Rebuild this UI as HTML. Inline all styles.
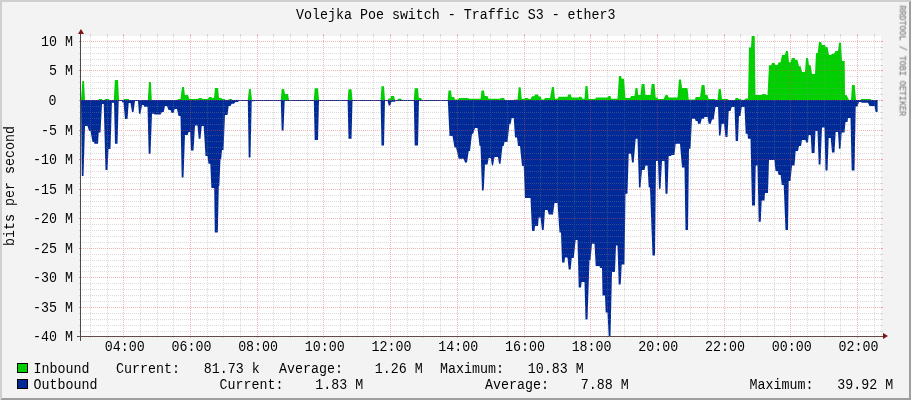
<!DOCTYPE html>
<html><head><meta charset="utf-8"><title>Volejka Poe switch - Traffic S3 - ether3</title>
<style>
html,body{margin:0;padding:0;background:#f3f3f3;}
body{width:911px;height:400px;overflow:hidden;}
svg{display:block;}
text{font-family:"Liberation Mono",monospace;font-size:13.33px;fill:#000;}
.wm{font-size:8.38px;fill:#8a8a8a;stroke:#8a8a8a;stroke-width:0.25px;}
</style></head><body>
<svg width="911" height="400" viewBox="0 0 911 400">
<rect x="0" y="0" width="911" height="400" fill="#f3f3f3"/>
<path d="M0,0H911L909,2H2V398L0,400Z" fill="#cfcfcf" shape-rendering="crispEdges"/>
<path d="M911,0V400H0L2,398H909V2Z" fill="#9e9e9e" shape-rendering="crispEdges"/>
<rect x="81" y="36" width="800" height="300" fill="#fff" shape-rendering="crispEdges"/>
<polygon fill="#00cf00" points="81.0,100.0 82.4,81.0 84.0,81.0 85.0,100.0 98.5,100.0 98.6,99.0 101.8,99.0 102.5,100.0 104.5,100.0 104.9,99.0 108.6,99.0 109.5,100.0 113.8,100.0 114.9,80.0 118.0,80.0 119.0,100.0 123.5,100.0 124.0,99.0 128.6,99.0 129.5,100.0 147.8,100.0 149.0,82.0 150.9,82.0 151.8,100.0 177.5,100.0 178.0,99.0 180.5,99.0 182.0,87.0 183.9,87.0 184.9,95.0 188.0,95.0 189.3,99.0 198.0,99.0 199.0,98.0 201.4,98.0 202.5,99.0 208.0,99.0 209.0,97.0 211.4,97.0 212.0,98.0 214.0,98.0 215.0,88.0 218.0,88.0 219.0,98.0 221.4,98.0 222.0,99.0 224.5,99.0 225.5,100.0 228.3,100.0 229.0,99.0 231.4,99.0 232.5,100.0 247.8,100.0 249.0,89.0 250.7,89.0 252.0,100.0 280.8,100.0 281.7,89.0 284.0,89.0 285.0,94.0 288.0,94.0 289.0,100.0 313.8,100.0 314.7,88.2 318.0,88.2 319.0,100.0 347.6,100.0 348.5,89.2 351.5,89.2 352.5,100.0 380.6,100.0 381.5,86.2 384.0,86.2 385.0,100.0 388.0,100.0 388.5,98.5 390.5,98.5 391.0,96.0 394.0,96.0 395.0,100.0 397.5,100.0 398.0,98.7 401.0,98.7 402.0,100.0 413.8,100.0 414.7,88.2 418.0,88.2 418.8,98.0 421.0,98.0 422.0,100.0 447.6,100.0 448.5,90.5 451.0,90.5 451.8,97.0 454.0,97.0 455.0,99.5 458.0,99.5 459.0,98.0 468.0,98.0 469.0,98.7 480.6,98.7 481.5,90.5 484.0,90.5 484.8,96.0 487.5,96.0 488.5,98.7 500.0,98.7 501.0,98.0 504.0,98.0 505.0,100.0 513.7,100.0 514.5,99.4 517.6,99.4 518.7,87.2 520.6,87.2 521.8,99.0 524.5,99.0 525.0,98.0 528.0,98.0 528.8,99.0 530.6,99.0 532.0,96.2 534.4,96.2 535.0,94.4 538.0,94.4 538.7,96.5 540.6,96.5 541.8,99.4 544.0,99.4 545.0,98.0 550.0,98.0 551.9,87.0 553.9,87.0 555.0,98.7 557.5,98.7 558.7,96.7 567.5,96.7 568.0,94.5 570.7,94.5 571.7,97.5 578.7,97.5 579.2,96.7 581.2,96.7 582.5,98.7 584.5,98.7 585.5,86.0 587.5,86.0 588.7,99.0 595.0,99.0 596.2,97.5 607.5,97.5 608.7,96.0 610.5,96.0 611.2,98.7 617.5,98.7 619.0,76.0 621.0,76.0 621.7,78.7 624.0,78.7 625.5,98.0 630.0,98.0 631.2,96.0 634.5,96.0 635.5,88.0 637.5,88.0 638.2,95.0 640.5,95.0 641.7,84.0 644.5,84.0 645.5,95.0 650.5,95.0 651.7,84.0 654.5,84.0 655.7,97.5 657.5,97.5 658.2,99.0 663.7,99.0 665.5,95.0 667.5,95.0 668.7,97.5 677.5,97.5 679.0,79.5 681.0,79.5 682.0,88.0 687.5,88.0 688.7,99.5 695.0,99.5 695.7,97.0 700.0,97.0 701.7,85.0 704.5,85.0 705.5,95.0 707.5,95.0 708.7,99.0 715.0,99.0 716.2,100.0 717.5,100.0 718.7,89.0 720.7,89.0 722.0,99.0 727.5,99.0 728.7,100.0 735.0,100.0 735.5,98.0 738.0,98.0 738.5,99.0 740.5,99.0 741.7,100.0 744.2,100.0 745.5,98.5 748.0,98.5 749.0,47.5 751.0,47.5 751.7,36.0 754.7,36.0 755.5,95.0 761.7,95.0 762.0,94.0 765.5,94.0 766.0,95.0 767.5,95.0 769.0,65.2 771.2,65.2 772.0,63.1 774.4,63.1 775.6,65.0 777.5,65.0 778.7,62.2 780.6,62.2 782.0,55.0 785.0,55.0 785.9,51.0 787.9,51.0 789.0,62.2 790.6,62.2 791.9,58.0 794.7,58.0 795.6,60.0 797.5,60.0 799.0,66.2 800.6,66.2 802.0,71.9 805.0,71.9 806.0,58.0 808.0,58.0 809.0,65.2 810.6,65.2 812.0,74.0 815.0,74.0 816.0,53.0 817.7,53.0 819.0,42.0 821.0,42.0 822.0,45.0 825.0,45.0 825.6,46.9 827.5,46.9 829.0,55.0 831.0,55.0 832.0,53.7 834.0,53.7 835.6,51.0 838.0,51.0 839.0,42.7 841.0,42.7 842.0,61.0 844.7,61.0 845.0,95.0 846.5,95.0 849.0,100.0 851.0,100.0 852.0,85.0 854.7,85.0 856.0,100.0 860.5,100.0 861.5,99.0 870.5,99.0 871.5,100.0 877.6,100.0 877.6,100.0 877.6,100.0"/>
<polygon fill="#002a97" points="81.0,100.0 81.8,176.0 83.5,176.0 85.0,126.0 87.5,126.0 89.0,131.0 90.5,131.0 92.5,142.0 94.0,142.0 94.5,143.8 98.0,143.8 98.7,132.5 100.5,132.5 102.0,104.0 103.7,104.0 105.5,170.0 107.5,170.0 108.5,149.0 110.5,149.0 111.9,102.8 114.0,102.8 115.0,143.8 117.5,143.8 118.7,100.8 121.7,100.8 122.5,102.5 123.5,102.5 125.0,119.0 127.5,119.0 128.7,103.0 130.5,103.0 132.0,112.0 133.5,112.0 135.0,101.0 138.0,101.0 139.0,113.7 140.5,113.7 142.0,105.0 143.5,105.0 144.2,106.7 147.5,106.7 148.7,153.7 150.5,153.7 152.0,113.7 154.0,113.7 154.5,114.5 160.5,114.5 162.0,112.0 163.7,112.0 165.0,106.0 167.0,106.0 168.5,110.0 170.5,110.0 171.7,113.0 173.5,113.0 174.7,109.0 177.0,109.0 178.5,116.0 180.5,116.0 181.7,177.5 183.5,177.5 185.0,135.0 187.6,135.0 188.6,132.0 190.2,132.0 191.0,150.5 193.5,150.5 195.0,125.5 197.5,125.5 198.7,138.7 200.5,138.7 201.7,126.0 203.7,126.0 205.5,156.0 207.5,156.0 208.5,163.7 210.3,163.7 211.4,188.0 214.2,188.0 214.8,232.4 217.8,232.4 218.8,186.0 219.3,186.0 220.5,159.0 221.2,159.0 222.0,150.0 223.5,150.0 225.0,115.0 227.5,115.0 228.7,106.0 230.5,106.0 231.7,103.7 234.0,103.7 235.5,102.0 238.0,102.0 239.0,100.8 247.8,100.8 248.7,157.5 250.5,157.5 251.7,101.2 254.0,101.2 255.0,100.6 280.8,100.6 281.7,130.5 283.5,130.5 284.7,100.6 313.8,100.6 314.7,140.0 318.0,140.0 319.0,100.6 347.6,100.6 348.5,138.7 351.5,138.7 352.5,100.6 380.6,100.6 381.5,145.5 384.0,145.5 385.0,100.6 387.5,100.6 388.7,105.5 390.3,105.5 391.5,101.8 395.0,101.8 396.0,100.6 413.8,100.6 414.7,145.5 418.0,145.5 419.0,100.6 447.8,100.6 449.5,136.0 452.5,136.0 454.5,147.5 456.0,147.5 458.7,158.7 463.7,158.7 465.0,162.5 467.0,162.5 468.7,151.0 470.0,151.0 472.0,133.7 473.2,133.7 475.0,128.0 477.5,128.0 479.5,146.0 480.5,146.0 482.0,190.5 483.7,190.5 485.0,164.5 487.5,164.5 488.7,158.0 490.7,158.0 492.0,165.5 493.0,165.5 494.5,157.0 498.0,157.0 499.0,163.7 500.5,163.7 502.5,146.0 503.7,146.0 504.5,142.0 507.5,142.0 509.5,123.7 510.7,123.7 511.7,118.0 513.7,118.0 515.0,137.5 517.0,137.5 518.0,146.0 520.0,146.0 522.0,166.0 523.7,166.0 525.0,198.0 530.5,198.0 532.0,231.0 534.5,231.0 535.0,226.0 538.0,226.0 538.7,217.5 540.5,217.5 542.0,230.0 543.7,230.0 545.0,210.0 547.5,210.0 548.7,214.5 553.0,214.5 554.5,203.0 557.5,203.0 559.5,232.5 561.0,232.5 562.0,262.5 564.5,262.5 565.0,257.5 567.5,257.5 568.7,269.5 570.7,269.5 571.7,258.0 573.7,258.0 575.7,240.0 577.5,240.0 578.7,287.5 581.0,287.5 581.7,282.0 584.5,282.0 585.5,319.5 587.5,319.5 589.5,260.0 590.5,260.0 592.0,243.7 594.5,243.7 595.7,266.0 599.5,266.0 600.0,268.0 602.0,268.0 602.5,295.5 605.0,295.5 605.7,312.5 607.5,312.5 608.7,336.0 610.5,336.0 612.0,272.0 615.0,272.0 616.0,245.5 617.5,245.5 618.7,284.5 620.7,284.5 621.7,264.5 624.5,264.5 625.5,193.7 627.5,193.7 628.7,153.7 631.0,153.7 632.0,162.5 633.7,162.5 635.7,138.7 637.5,138.7 639.0,187.5 640.5,187.5 642.0,170.0 644.5,170.0 645.5,165.5 647.5,165.5 648.7,187.5 650.0,187.5 652.5,255.5 655.0,255.5 656.0,161.0 658.0,161.0 659.0,188.7 660.5,188.7 662.0,161.0 664.5,161.0 665.5,193.7 667.5,193.7 668.7,156.0 671.0,156.0 671.5,155.0 674.5,155.0 675.7,143.7 680.0,143.7 682.0,167.5 684.5,167.5 685.5,230.0 688.0,230.0 689.0,148.7 690.5,148.7 692.0,118.7 695.0,118.7 695.7,121.0 697.5,121.0 698.0,123.7 700.5,123.7 701.7,118.7 703.7,118.7 704.5,117.0 707.5,117.0 708.7,123.7 710.7,123.7 712.0,119.5 713.7,119.5 715.5,107.0 718.0,107.0 719.0,135.5 720.5,135.5 721.7,123.7 724.0,123.7 725.5,137.0 727.5,137.0 728.7,111.0 730.5,111.0 731.7,107.0 734.5,107.0 735.7,141.0 738.0,141.0 739.0,116.0 740.5,116.0 741.7,107.0 744.5,107.0 745.7,133.7 747.5,133.7 748.0,138.7 750.5,138.7 752.0,205.5 755.0,205.5 755.7,165.5 757.5,165.5 758.7,221.7 760.7,221.7 761.7,200.5 764.5,200.5 765.0,193.0 768.0,193.0 769.0,160.0 774.5,160.0 775.5,171.0 777.5,171.0 778.7,175.0 780.7,175.0 781.7,185.0 783.7,185.0 785.5,230.0 788.0,230.0 788.7,181.0 790.5,181.0 792.0,165.5 794.5,165.5 795.7,151.0 798.0,151.0 799.0,146.0 801.0,146.0 802.0,140.0 805.5,140.0 806.0,142.5 808.0,142.5 808.7,135.0 810.7,135.0 811.7,153.0 814.5,153.0 815.5,131.0 817.5,131.0 818.7,164.5 820.5,164.5 822.0,127.5 824.5,127.5 825.5,170.5 827.5,170.5 828.7,138.0 830.7,138.0 832.0,152.5 834.5,152.5 835.7,132.0 838.0,132.0 839.0,148.7 840.5,148.7 841.7,132.5 844.5,132.5 845.5,122.0 847.5,122.0 848.0,118.0 850.5,118.0 851.7,170.5 854.5,170.5 855.7,106.5 857.5,106.5 859.0,102.0 860.7,102.0 862.0,102.7 868.0,102.7 869.5,106.0 874.5,106.0 875.7,112.0 877.3,112.0 877.6,112.0 877.6,100.0"/>
<rect x="81" y="100" width="796.6" height="1" fill="#002a97"/>
<g shape-rendering="crispEdges" fill="none" stroke-width="1" stroke-dasharray="1 1">
<path stroke="rgba(143,143,143,0.32)" d="M80,331.5H882M80,325.5H882M80,319.5H882M80,313.5H882M80,301.5H882M80,295.5H882M80,289.5H882M80,283.5H882M80,271.5H882M80,266.5H882M80,260.5H882M80,254.5H882M80,242.5H882M80,236.5H882M80,230.5H882M80,224.5H882M80,212.5H882M80,206.5H882M80,201.5H882M80,195.5H882M80,183.5H882M80,177.5H882M80,171.5H882M80,165.5H882M80,153.5H882M80,147.5H882M80,141.5H882M80,135.5H882M80,124.5H882M80,118.5H882M80,112.5H882M80,106.5H882M80,94.5H882M80,88.5H882M80,82.5H882M80,76.5H882M80,65.5H882M80,59.5H882M80,53.5H882M80,47.5H882M90.5,36V337M107.5,36V337M140.5,36V337M157.5,36V337M173.5,36V337M207.5,36V337M223.5,36V337M240.5,36V337M273.5,36V337M290.5,36V337M307.5,36V337M340.5,36V337M357.5,36V337M373.5,36V337M407.5,36V337M423.5,36V337M440.5,36V337M473.5,36V337M490.5,36V337M507.5,36V337M540.5,36V337M557.5,36V337M574.5,36V337M607.5,36V337M624.5,36V337M640.5,36V337M674.5,36V337M690.5,36V337M707.5,36V337M740.5,36V337M757.5,36V337M774.5,36V337M807.5,36V337M824.5,36V337M840.5,36V337M874.5,36V337"/>
<path stroke="rgba(222,79,79,0.42)" d="M79,336.5H883M79,307.5H883M79,277.5H883M79,248.5H883M79,218.5H883M79,189.5H883M79,159.5H883M79,130.5H883M79,100.5H883M79,70.5H883M79,41.5H883M123.5,36V337M190.5,36V337M257.5,36V337M323.5,36V337M390.5,36V337M457.5,36V337M524.5,36V337M590.5,36V337M657.5,36V337M724.5,36V337M790.5,36V337M857.5,36V337"/>
<path stroke="rgba(143,143,143,0.32)" stroke-dasharray="none" d="M79,331.5H81M881,331.5H883M79,325.5H81M881,325.5H883M79,319.5H81M881,319.5H883M79,313.5H81M881,313.5H883M79,301.5H81M881,301.5H883M79,295.5H81M881,295.5H883M79,289.5H81M881,289.5H883M79,283.5H81M881,283.5H883M79,271.5H81M881,271.5H883M79,266.5H81M881,266.5H883M79,260.5H81M881,260.5H883M79,254.5H81M881,254.5H883M79,242.5H81M881,242.5H883M79,236.5H81M881,236.5H883M79,230.5H81M881,230.5H883M79,224.5H81M881,224.5H883M79,212.5H81M881,212.5H883M79,206.5H81M881,206.5H883M79,201.5H81M881,201.5H883M79,195.5H81M881,195.5H883M79,183.5H81M881,183.5H883M79,177.5H81M881,177.5H883M79,171.5H81M881,171.5H883M79,165.5H81M881,165.5H883M79,153.5H81M881,153.5H883M79,147.5H81M881,147.5H883M79,141.5H81M881,141.5H883M79,135.5H81M881,135.5H883M79,124.5H81M881,124.5H883M79,118.5H81M881,118.5H883M79,112.5H81M881,112.5H883M79,106.5H81M881,106.5H883M79,94.5H81M881,94.5H883M79,88.5H81M881,88.5H883M79,82.5H81M881,82.5H883M79,76.5H81M881,76.5H883M79,65.5H81M881,65.5H883M79,59.5H81M881,59.5H883M79,53.5H81M881,53.5H883M79,47.5H81M881,47.5H883M90.5,34V36M90.5,336V338M107.5,34V36M107.5,336V338M140.5,34V36M140.5,336V338M157.5,34V36M157.5,336V338M173.5,34V36M173.5,336V338M207.5,34V36M207.5,336V338M223.5,34V36M223.5,336V338M240.5,34V36M240.5,336V338M273.5,34V36M273.5,336V338M290.5,34V36M290.5,336V338M307.5,34V36M307.5,336V338M340.5,34V36M340.5,336V338M357.5,34V36M357.5,336V338M373.5,34V36M373.5,336V338M407.5,34V36M407.5,336V338M423.5,34V36M423.5,336V338M440.5,34V36M440.5,336V338M473.5,34V36M473.5,336V338M490.5,34V36M490.5,336V338M507.5,34V36M507.5,336V338M540.5,34V36M540.5,336V338M557.5,34V36M557.5,336V338M574.5,34V36M574.5,336V338M607.5,34V36M607.5,336V338M624.5,34V36M624.5,336V338M640.5,34V36M640.5,336V338M674.5,34V36M674.5,336V338M690.5,34V36M690.5,336V338M707.5,34V36M707.5,336V338M740.5,34V36M740.5,336V338M757.5,34V36M757.5,336V338M774.5,34V36M774.5,336V338M807.5,34V36M807.5,336V338M824.5,34V36M824.5,336V338M840.5,34V36M840.5,336V338M874.5,34V36M874.5,336V338"/>
<path stroke="rgba(222,79,79,0.42)" stroke-dasharray="none" d="M79,336.5H81M881,336.5H883M79,307.5H81M881,307.5H883M79,277.5H81M881,277.5H883M79,248.5H81M881,248.5H883M79,218.5H81M881,218.5H883M79,189.5H81M881,189.5H883M79,159.5H81M881,159.5H883M79,130.5H81M881,130.5H883M79,100.5H81M881,100.5H883M79,70.5H81M881,70.5H883M79,41.5H81M881,41.5H883M123.5,34V36M123.5,336V338M190.5,34V36M190.5,336V338M257.5,34V36M257.5,336V338M323.5,34V36M323.5,336V338M390.5,34V36M390.5,336V338M457.5,34V36M457.5,336V338M524.5,34V36M524.5,336V338M590.5,34V36M590.5,336V338M657.5,34V36M657.5,336V338M724.5,34V36M724.5,336V338M790.5,34V36M790.5,336V338M857.5,34V36M857.5,336V338"/>
</g>
<g shape-rendering="crispEdges"><rect x="77" y="336" width="808" height="1" fill="#4a4a4a"/><rect x="80" y="32" width="1" height="309" fill="#4a4a4a"/></g>
<path d="M79,336.5H883" stroke="rgba(222,79,79,0.33)" stroke-dasharray="1 1" shape-rendering="crispEdges"/>
<polygon points="78,34 84,34 81,29" fill="#7f1414"/>
<polygon points="883,333 883,339 888,336" fill="#7f1414"/>
<g opacity="0.999">
<text transform="translate(455.80,18.80) scale(1,1.040)" text-anchor="middle" xml:space="preserve">Volejka Poe switch - Traffic S3 - ether3</text>
<text transform="translate(73.00,341.00) scale(1,1.040)" text-anchor="end" xml:space="preserve">-40 M</text>
<text transform="translate(73.00,312.00) scale(1,1.040)" text-anchor="end" xml:space="preserve">-35 M</text>
<text transform="translate(73.00,282.00) scale(1,1.040)" text-anchor="end" xml:space="preserve">-30 M</text>
<text transform="translate(73.00,253.00) scale(1,1.040)" text-anchor="end" xml:space="preserve">-25 M</text>
<text transform="translate(73.00,223.00) scale(1,1.040)" text-anchor="end" xml:space="preserve">-20 M</text>
<text transform="translate(73.00,194.00) scale(1,1.040)" text-anchor="end" xml:space="preserve">-15 M</text>
<text transform="translate(73.00,164.00) scale(1,1.040)" text-anchor="end" xml:space="preserve">-10 M</text>
<text transform="translate(73.00,135.00) scale(1,1.040)" text-anchor="end" xml:space="preserve">-5 M</text>
<text transform="translate(56.60,105.20) scale(1,1.040)" text-anchor="end" xml:space="preserve">0</text>
<text transform="translate(73.00,75.00) scale(1,1.040)" text-anchor="end" xml:space="preserve">5 M</text>
<text transform="translate(73.00,46.00) scale(1,1.040)" text-anchor="end" xml:space="preserve">10 M</text>
<text transform="translate(124.70,350.60) scale(1,1.040)" text-anchor="middle" xml:space="preserve">04:00</text>
<text transform="translate(191.40,350.60) scale(1,1.040)" text-anchor="middle" xml:space="preserve">06:00</text>
<text transform="translate(258.10,350.60) scale(1,1.040)" text-anchor="middle" xml:space="preserve">08:00</text>
<text transform="translate(324.80,350.60) scale(1,1.040)" text-anchor="middle" xml:space="preserve">10:00</text>
<text transform="translate(391.50,350.60) scale(1,1.040)" text-anchor="middle" xml:space="preserve">12:00</text>
<text transform="translate(458.20,350.60) scale(1,1.040)" text-anchor="middle" xml:space="preserve">14:00</text>
<text transform="translate(524.90,350.60) scale(1,1.040)" text-anchor="middle" xml:space="preserve">16:00</text>
<text transform="translate(591.60,350.60) scale(1,1.040)" text-anchor="middle" xml:space="preserve">18:00</text>
<text transform="translate(658.30,350.60) scale(1,1.040)" text-anchor="middle" xml:space="preserve">20:00</text>
<text transform="translate(725.00,350.60) scale(1,1.040)" text-anchor="middle" xml:space="preserve">22:00</text>
<text transform="translate(791.70,350.60) scale(1,1.040)" text-anchor="middle" xml:space="preserve">00:00</text>
<text transform="translate(858.40,350.60) scale(1,1.040)" text-anchor="middle" xml:space="preserve">02:00</text>
<text transform="translate(14.30,186.00) rotate(-90) scale(1,1.040)" text-anchor="middle" xml:space="preserve">bits per second</text>
<text transform="translate(899.60,5.50) rotate(90) scale(1,1.150)" class="wm" xml:space="preserve">RRDTOOL / TOBI OETIKER</text>
<g shape-rendering="crispEdges"><rect x="17.5" y="363.5" width="10" height="9" fill="#00cf00" stroke="#000"/><rect x="17.5" y="379.5" width="10" height="9" fill="#002a97" stroke="#000"/></g>
<text transform="translate(33.50,373.00) scale(1,1.040)" xml:space="preserve">Inbound</text>
<text transform="translate(116.00,373.00) scale(1,1.040)" xml:space="preserve">Current:   81.73 k</text>
<text transform="translate(279.00,373.00) scale(1,1.040)" xml:space="preserve">Average:    1.26 M</text>
<text transform="translate(440.00,373.00) scale(1,1.040)" xml:space="preserve">Maximum:   10.83 M</text>
<text transform="translate(33.50,389.00) scale(1,1.040)" xml:space="preserve">Outbound</text>
<text transform="translate(219.50,389.00) scale(1,1.040)" xml:space="preserve">Current:    1.83 M</text>
<text transform="translate(485.00,389.00) scale(1,1.040)" xml:space="preserve">Average:    7.88 M</text>
<text transform="translate(749.50,389.00) scale(1,1.040)" xml:space="preserve">Maximum:   39.92 M</text>
</g>
</svg>
</body></html>
